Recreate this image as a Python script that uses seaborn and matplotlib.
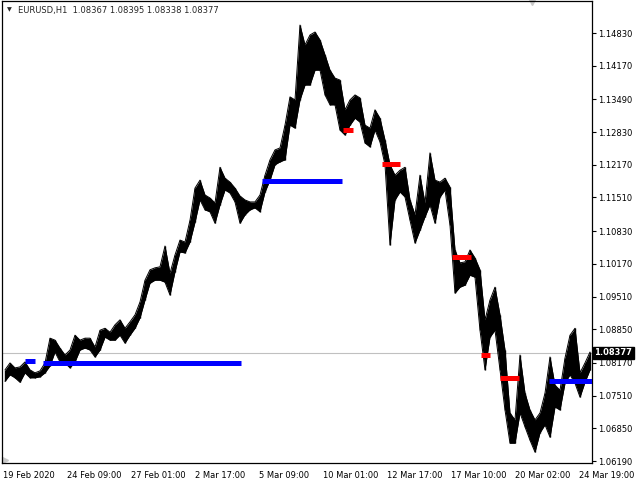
import numpy as np
import pandas as pd
import matplotlib
matplotlib.use("Agg")
import matplotlib.pyplot as plt
import matplotlib.transforms as mtransforms
import seaborn as sns

# EURUSD H1, high/low in blocks of 5 bars
high = [1.0803, 1.0817, 1.0807, 1.0809, 1.0819, 1.0803, 1.0797, 1.0801, 1.0817, 1.0867,
        1.0863, 1.0847, 1.0833, 1.0843, 1.0873, 1.0863, 1.0867, 1.0867, 1.0849, 1.0883,
        1.0887, 1.0879, 1.0894, 1.0904, 1.0887, 1.0900, 1.0914, 1.0940, 1.0984, 1.1005,
        1.1009, 1.1011, 1.1053, 1.0998, 1.1035, 1.1065, 1.1061, 1.1105, 1.1170, 1.1186,
        1.1156, 1.1150, 1.1140, 1.1212, 1.1190, 1.1182, 1.1170, 1.1154, 1.1146, 1.1142,
        1.1142, 1.1156, 1.1196, 1.1227, 1.1247, 1.1251, 1.1297, 1.1354, 1.1348, 1.1499,
        1.1459, 1.1479, 1.1485, 1.1469, 1.1439, 1.1408, 1.1392, 1.1388, 1.1328, 1.1348,
        1.1358, 1.1352, 1.1297, 1.1291, 1.1328, 1.1311, 1.1267, 1.1217, 1.1196, 1.1206,
        1.1212, 1.1146, 1.1116, 1.1196, 1.1140, 1.1241, 1.1186, 1.1182, 1.1190, 1.1172,
        1.1045, 1.1019, 1.1021, 1.1045, 1.1029, 1.1005, 1.0904, 1.0944, 1.0970, 1.0914,
        1.0843, 1.0716, 1.0702, 1.0833, 1.0756, 1.0722, 1.0702, 1.0716, 1.0756, 1.0829,
        1.0772, 1.0762, 1.0827, 1.0873, 1.0887, 1.0797, 1.0817, 1.0839]
low = [1.0780, 1.0793, 1.0787, 1.0778, 1.0797, 1.0787, 1.0787, 1.0789, 1.0797, 1.0811,
       1.0839, 1.0819, 1.0817, 1.0807, 1.0819, 1.0843, 1.0847, 1.0843, 1.0829, 1.0843,
       1.0869, 1.0863, 1.0863, 1.0873, 1.0857, 1.0873, 1.0887, 1.0908, 1.0944, 1.0978,
       1.0984, 1.0984, 1.0980, 1.0954, 1.1001, 1.1041, 1.1039, 1.1061, 1.1101, 1.1146,
       1.1126, 1.1122, 1.1099, 1.1136, 1.1166, 1.1160, 1.1142, 1.1099, 1.1116, 1.1126,
       1.1130, 1.1122, 1.1162, 1.1186, 1.1217, 1.1223, 1.1227, 1.1297, 1.1291, 1.1348,
       1.1378, 1.1378, 1.1408, 1.1408, 1.1358, 1.1338, 1.1338, 1.1287, 1.1277, 1.1297,
       1.1311, 1.1303, 1.1261, 1.1253, 1.1287, 1.1263, 1.1217, 1.1055, 1.1146, 1.1162,
       1.1152, 1.1105, 1.1059, 1.1085, 1.1112, 1.1136, 1.1099, 1.1152, 1.1166, 1.1095,
       1.0958, 1.0970, 1.0974, 1.0994, 1.0990, 1.0883, 1.0803, 1.0869, 1.0883, 1.0803,
       1.0722, 1.0655, 1.0655, 1.0716, 1.0688, 1.0661, 1.0637, 1.0676, 1.0692, 1.0667,
       1.0728, 1.0722, 1.0776, 1.0793, 1.0776, 1.0748, 1.0778, 1.0803]

# signal levels: start bar, end bar, price, side
sig_start = [22, 40, 259, 340, 379, 449, 478, 497, 546]
sig_end = [32, 238, 339, 350, 397, 468, 487, 516, 590]
sig_price = [1.0821, 1.0816, 1.1185, 1.1287, 1.1218, 1.1031, 1.0834, 1.0786, 1.0781]
sig_side = ["buy", "buy", "buy", "sell", "sell", "sell", "sell", "sell", "buy"]

last_price = 1.08377
y_ticks = [1.14830, 1.14170, 1.13490, 1.12830, 1.12170, 1.11510, 1.10830,
           1.10170, 1.09510, 1.08850, 1.08170, 1.07510, 1.06850, 1.06190]
x_tick_labels = ["19 Feb 2020", "24 Feb 09:00", "27 Feb 01:00", "2 Mar 17:00",
                 "5 Mar 09:00", "10 Mar 01:00", "12 Mar 17:00", "17 Mar 10:00",
                 "20 Mar 02:00", "24 Mar 19:00"]
bars_per_label = 64

sns.set_theme(style="white")
plt.rcParams['font.family'] = ['DejaVu Sans']

df = pd.DataFrame({"bar": np.arange(2, 592, 5), "high": high, "low": low})

fig = plt.figure(figsize=(6.4, 4.8), dpi=100)
ax = fig.add_axes([2 / 640, 17 / 480, 590 / 640, 462 / 480])

ax.axhline(last_price, color="#c0c0c0", lw=0.8, zorder=1)

ax.fill_between(df["bar"], df["low"], df["high"], color="black", lw=0, zorder=2)
sns.lineplot(data=df, x="bar", y="high", color="black", lw=0.7, ax=ax, zorder=2)
sns.lineplot(data=df, x="bar", y="low", color="black", lw=0.7, ax=ax, zorder=2)
ax.vlines(df["bar"], df["low"], df["high"], color="black", lw=1.0, zorder=2)

colors = {"buy": "#0000ff", "sell": "#ff0000"}
for s, e, p, side in zip(sig_start, sig_end, sig_price, sig_side):
    ax.hlines(p, s, e, color=colors[side], lw=3.6, zorder=3)

ax.set_xlim(-1, 589)
ax.set_ylim(1.06150, 1.15476)

ax.yaxis.tick_right()
ax.set_yticks(y_ticks)
ax.set_yticklabels([f"{v:.5f}" for v in y_ticks])
ax.set_xticks(np.arange(len(x_tick_labels)) * bars_per_label)
ax.set_xticklabels(x_tick_labels, ha="left")
ax.tick_params(axis="both", which="major", labelsize=6, colors="black",
               length=3, width=0.8, direction="out", pad=1.5)
ax.tick_params(axis="x", length=4, pad=1.5)
ax.tick_params(axis="y", right=True, left=False)
ax.set_xlabel("")
ax.set_ylabel("")
for sp in ax.spines.values():
    sp.set_color("black")
    sp.set_linewidth(0.9)

# last price box on the price scale
trans = mtransforms.blended_transform_factory(ax.transAxes, ax.transData)
ax.text(1.004, last_price, f"{last_price:.5f}", transform=trans, fontsize=6,
        color="white", va="center", ha="left", fontweight="bold",
        bbox=dict(boxstyle="square,pad=0.2", fc="black", ec="black"), clip_on=False)

# chart shift markers
ax.plot([0.898], [0.997], marker="v", color="#c8c8c8", ms=5, transform=ax.transAxes,
        clip_on=False)
ax.plot([0.005], [0.006], marker=">", color="#c8c8c8", ms=4, transform=ax.transAxes,
        clip_on=False)

fig.text(7 / 640, 1 - 10 / 480, "▼", fontsize=4.5, va="center", ha="left")
fig.text(18 / 640, 1 - 10 / 480, "EURUSD,H1  1.08367 1.08395 1.08338 1.08377",
         fontsize=6, va="center", ha="left")

fig.savefig("out.png", dpi=100)
